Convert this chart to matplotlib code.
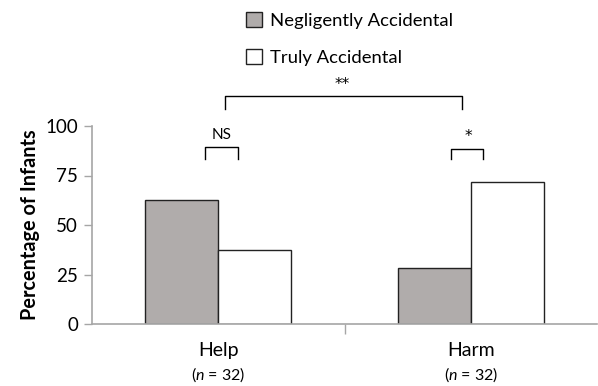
import numpy as np
import matplotlib
matplotlib.use('Agg')
from matplotlib import pyplot as plt
from matplotlib.patches import Patch

plt.rcParams['font.family'] = ['Lato', 'DejaVu Sans']
plt.rcParams['mathtext.fontset'] = 'custom'
plt.rcParams['mathtext.rm'] = 'Lato'
plt.rcParams['mathtext.it'] = 'Lato:italic'

# data
categories = ['Help', 'Harm']
n_labels = ['($\\mathit{n}$ = 32)', '($\\mathit{n}$ = 32)']
negligent = [62.5, 28.1]
truly = [37.5, 71.9]
series_names = ['Negligently Accidental', 'Truly Accidental']
yticks = [0, 25, 50, 75, 100]

grey = '#b0acab'
axis_col = '#a6a6a6'

fig = plt.figure(figsize=(5.98, 3.86), dpi=100)
ax = fig.add_axes([92 / 598, 62 / 386, 505 / 598, 198 / 386])

x = np.arange(len(categories))
w = 0.289
ax.bar(x - w / 2, negligent, w, color=grey, edgecolor='#222222', lw=1.0)
ax.bar(x + w / 2, truly, w, color='white', edgecolor='#222222', lw=1.0)

ax.set_xlim(-0.5, 1.5)
ax.set_ylim(0, 100)
ax.set_yticks(yticks)
ax.tick_params(axis='y', length=6, width=1, color=axis_col, labelsize=13.5, pad=4)
ax.set_xticks([0.5])
ax.set_xticklabels([''])
ax.tick_params(axis='x', length=7, width=1, color=axis_col)
for s in ['top', 'right']:
    ax.spines[s].set_visible(False)
for s in ['left', 'bottom']:
    ax.spines[s].set_color(axis_col)
    ax.spines[s].set_linewidth(1.2)

ax.set_ylabel('Percentage of Infants', fontsize=14.3, fontweight='bold', labelpad=4)

# category labels
for xi, cat, nl in zip(x, categories, n_labels):
    ax.text(xi, -13.5, cat, ha='center', va='center', fontsize=14)
    ax.text(xi, -25.5, nl, ha='center', va='center', fontsize=11.5)

# significance brackets
def bracket(x0, x1, ytop, ybot, label, ytxt, xtxt, family):
    ax.plot([x0, x0, x1, x1], [ybot, ytop, ytop, ybot], color='black', lw=1,
            clip_on=False)
    ax.text(xtxt, ytxt, label, ha='center', va='center', fontsize=11,
            family=family)

bracket(0.025, 0.965, 115.2, 108.5, '**', 121.0, 0.49, 'DejaVu Sans')
bracket(-0.054, 0.077, 89.4, 83.5, 'NS', 95.5, 0.014, 'Lato')
bracket(0.922, 1.049, 88.6, 83.5, '*', 94.5, 0.99, 'DejaVu Sans')

handles = [Patch(facecolor=grey, edgecolor='#222222', lw=1),
           Patch(facecolor='white', edgecolor='#222222', lw=1)]
fig.legend(handles, series_names, loc='upper left',
           bbox_to_anchor=(246 / 598, 1 - 12 / 386), frameon=False,
           fontsize=13.3, handlelength=0.85, handleheight=0.85, handletextpad=0.45,
           labelspacing=1.1, borderaxespad=0, borderpad=0)

fig.savefig('out.png', dpi=100)
